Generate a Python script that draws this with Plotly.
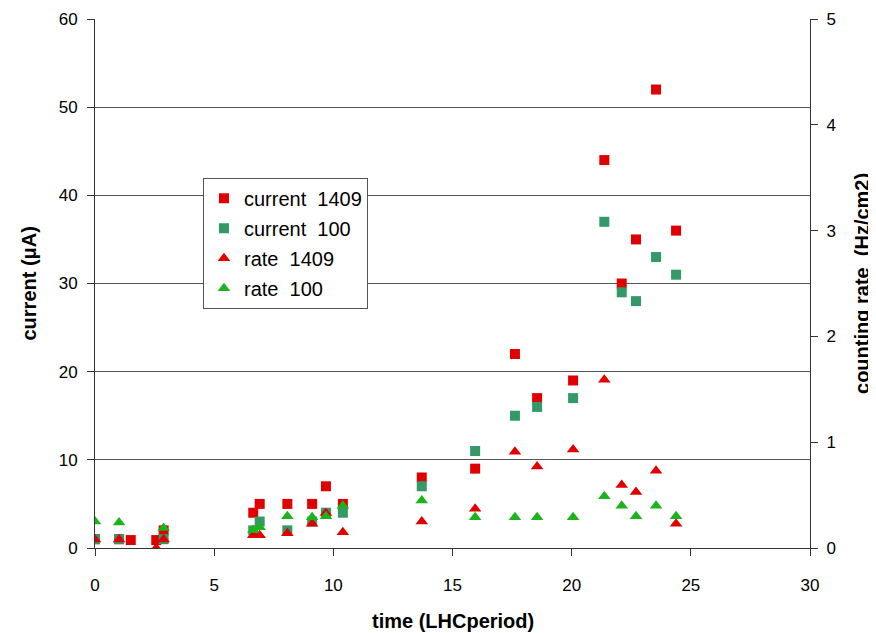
import plotly.graph_objects as go

# time (LHC period) positions
t_1409 = [0.0, 1.01, 1.50, 2.57, 2.88, 6.64, 6.91, 8.07, 9.11, 9.69, 10.40,
          13.71, 15.95, 17.62, 18.55, 20.06, 21.37, 22.10, 22.70, 23.54, 24.38]
current_1409 = [1.0, 1.0, 0.9, 0.9, 2.0, 4.0, 5.0, 5.0, 5.0, 7.0, 5.0,
                8.0, 9.0, 22.0, 17.0, 19.0, 44.0, 30.0, 35.0, 52.0, 36.0]

t_1409_rate = [0.0, 1.01, 2.57, 2.88, 6.64, 6.91, 8.07, 9.11, 9.69, 10.40,
               13.71, 15.95, 17.62, 18.55, 20.06, 21.37, 22.10, 22.70, 23.54, 24.38]
rate_1409 = [0.08, 0.08, 0.0, 0.08, 0.12, 0.12, 0.14, 0.23, 0.33, 0.15,
             0.25, 0.37, 0.91, 0.77, 0.93, 1.59, 0.595, 0.53, 0.73, 0.23]

t_100 = [0.0, 1.01, 2.88, 6.64, 6.91, 8.07, 9.11, 9.69, 10.40,
         13.71, 15.95, 17.62, 18.55, 20.06, 21.37, 22.10, 22.70, 23.54, 24.38]
current_100 = [1.0, 1.0, 1.0, 2.0, 3.0, 2.0, 3.0, 4.0, 4.0,
               7.0, 11.0, 15.0, 16.0, 17.0, 37.0, 29.0, 28.0, 33.0, 31.0]
rate_100 = [0.25, 0.24, 0.19, 0.17, 0.195, 0.30, 0.29, 0.30, 0.40,
            0.45, 0.29, 0.29, 0.29, 0.29, 0.49, 0.40, 0.30, 0.40, 0.30]

x_ticks = [0, 5, 10, 15, 20, 25, 30]
y_left_ticks = [0, 10, 20, 30, 40, 50, 60]
y_right_ticks = [0, 1, 2, 3, 4, 5]

x_title = "time (LHCperiod)"
y_left_title = "current (μA)"
y_right_title = "counting rate\u00a0 (Hz/cm2)"

RED = "#E00000"
DKGREEN = "#339966"
GREEN = "#1DB31D"
FONT = "Liberation Sans, Arial, sans-serif"
NB = "\u00a0"

fig = go.Figure()
fig.add_trace(go.Scatter(x=t_1409, y=current_1409, mode="markers",
                         name="current" + NB + " 1409", legendgroup="a",
                         marker=dict(symbol="square", size=10, color=RED)))
fig.add_trace(go.Scatter(x=t_100, y=current_100, mode="markers",
                         name="current" + NB + " 100", legendgroup="b",
                         marker=dict(symbol="square", size=10, color=DKGREEN)))
fig.add_trace(go.Scatter(x=t_1409_rate, y=rate_1409, mode="markers", yaxis="y2",
                         name="rate" + NB + " 1409", legendgroup="c",
                         marker=dict(symbol="triangle-up", size=11, color=RED)))
fig.add_trace(go.Scatter(x=t_100, y=rate_100, mode="markers", yaxis="y2",
                         name="rate" + NB + " 100", legendgroup="d",
                         marker=dict(symbol="triangle-up", size=11, color=GREEN)))

axis_common = dict(zeroline=False, showline=True, linecolor="#333333", linewidth=1,
                   ticks="outside", ticklen=7, tickcolor="#333333", automargin=False,
                   tickfont=dict(size=17, family=FONT))

# the page body has an 8px margin, so the figure is sized to fit the window
fig.update_layout(
    width=868, height=625,
    margin=dict(l=87, r=66, t=11, b=85),
    plot_bgcolor="white", paper_bgcolor="white",
    font=dict(family=FONT, size=16, color="black"),
    showlegend=True,
    legend=dict(x=0.151, y=0.70, xanchor="left", yanchor="top",
                bgcolor="white", bordercolor="#555555", borderwidth=1,
                font=dict(size=20, family=FONT), tracegroupgap=1,
                itemsizing="trace"),
    xaxis=dict(range=[0, 30], tickvals=x_ticks, showgrid=False,
               ticklabelstandoff=15, **axis_common),
    yaxis=dict(range=[0, 60], tickvals=y_left_ticks, showgrid=True,
               gridcolor="#555555", gridwidth=1, ticklabelstandoff=6,
               **axis_common),
    yaxis2=dict(range=[0, 5], tickvals=y_right_ticks, overlaying="y", side="right",
                showgrid=False, ticklabelstandoff=5, **axis_common),
    annotations=[
        dict(text="<b>" + x_title + "</b>", xref="paper", yref="paper",
             x=0.5, y=-0.138, xanchor="center", yanchor="middle", showarrow=False,
             font=dict(size=20, family=FONT)),
        dict(text="<b>" + y_left_title + "</b>", xref="paper", yref="paper",
             x=-0.0937, y=0.5, xanchor="center", yanchor="middle", showarrow=False,
             textangle=-90, font=dict(size=20, family=FONT)),
        dict(text="<b>" + y_right_title + "</b>", xref="paper", yref="paper",
             x=1.072, y=0.5, xanchor="center", yanchor="middle", showarrow=False,
             textangle=-90, font=dict(size=20, family=FONT)),
    ],
)

fig.write_html("out.html")
